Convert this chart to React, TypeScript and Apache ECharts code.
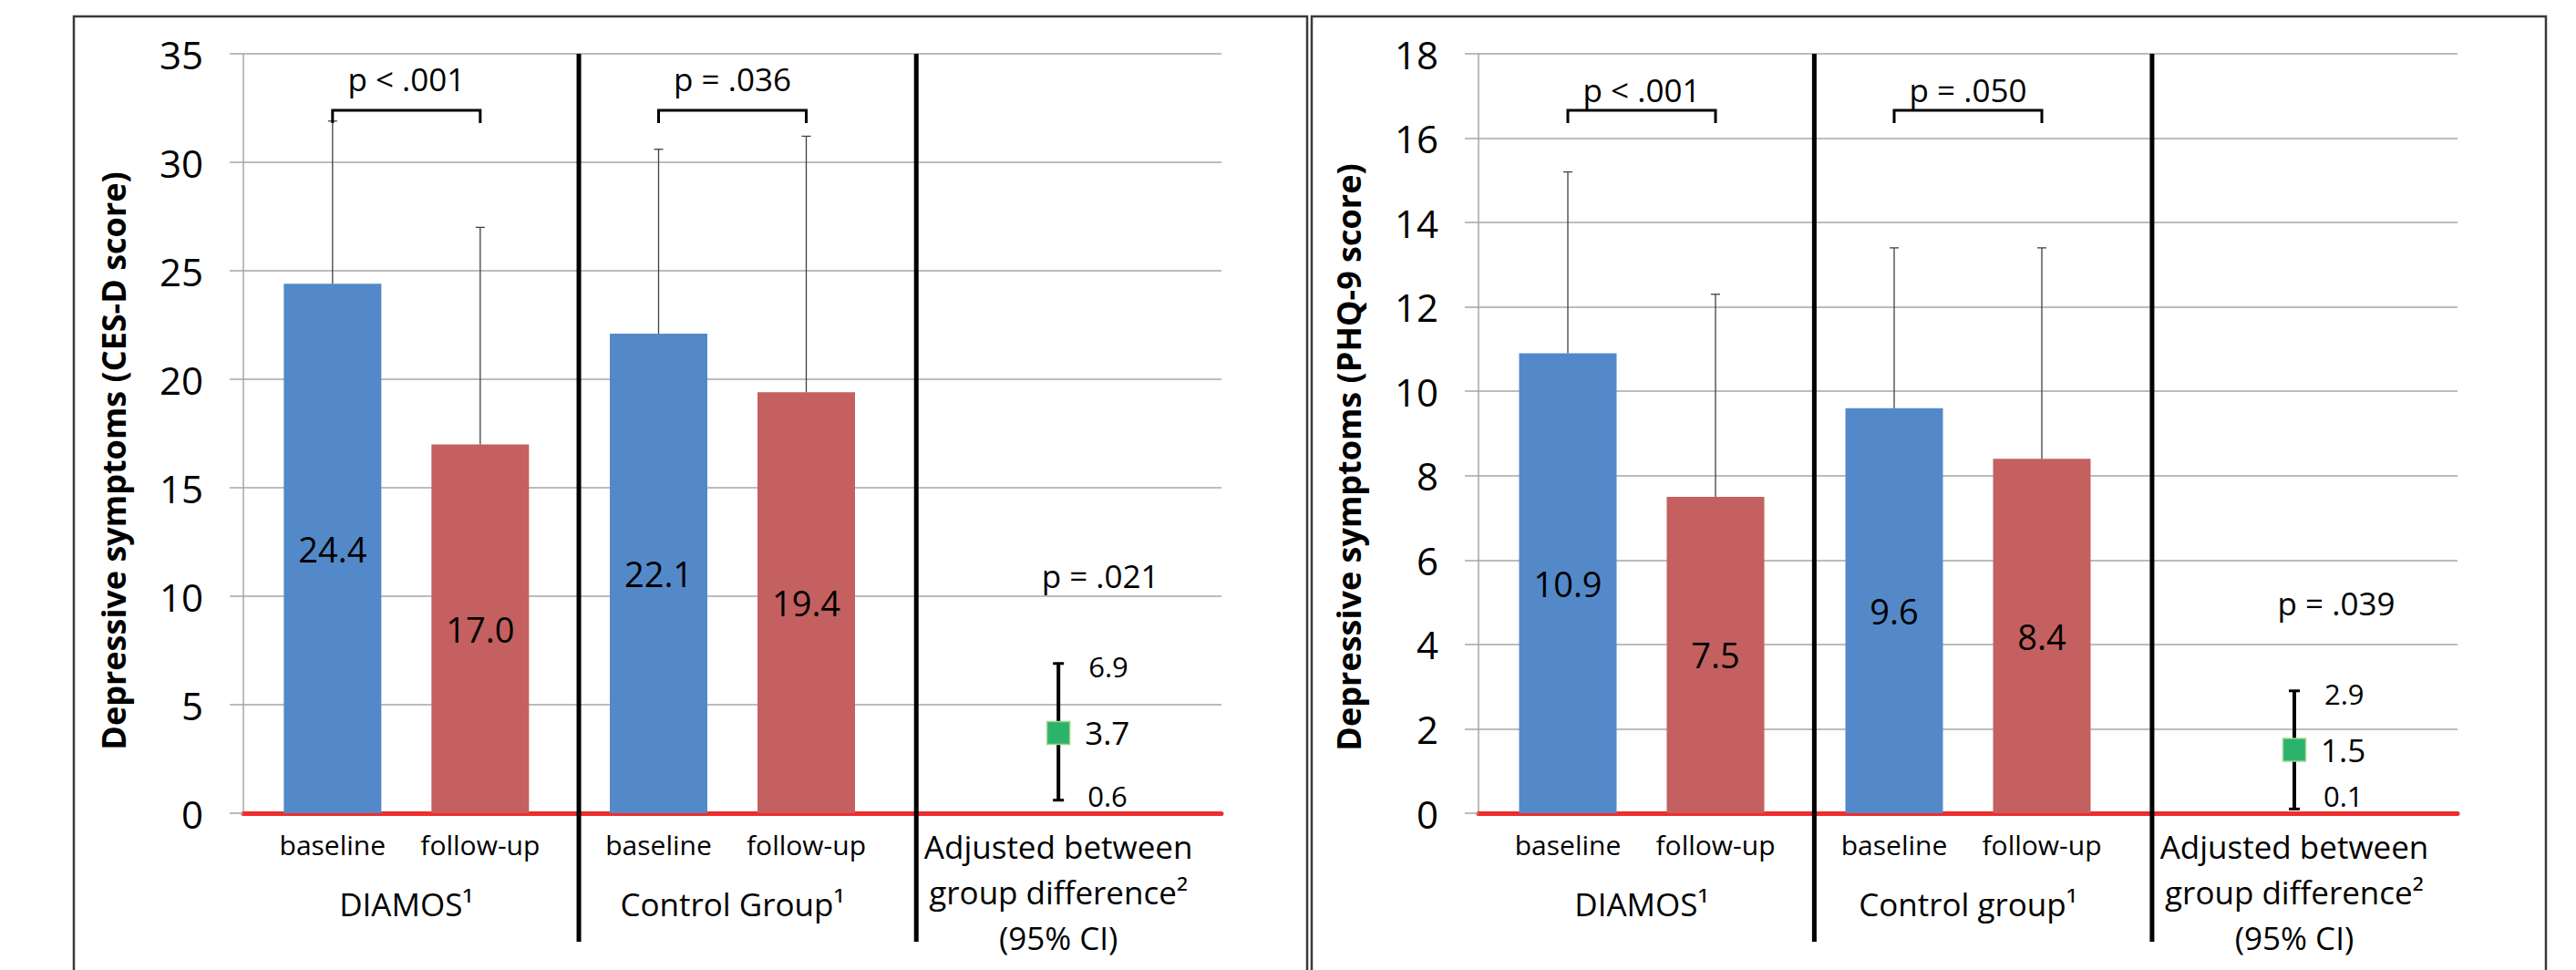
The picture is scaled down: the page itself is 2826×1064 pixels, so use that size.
import React, { useEffect, useRef } from "react";
import * as echarts from "echarts";

const FONT = "'Open Sans', 'Liberation Sans', sans-serif";

// ---------- shared categories ----------
const timePoints = ["baseline", "follow-up"];
const diffCategory = "Adjusted between\ngroup difference²\n(95% CI)";

// ---------- Panel A: CES-D ----------
const cesdTitle = "Depressive symptoms (CES-D score)";
const cesdGroups = ["DIAMOS¹", "Control Group¹"];
const cesdBaseline = [24.4, 22.1];
const cesdFollowUp = [17.0, 19.4];
const cesdBaselineSD = [7.5, 8.5];
const cesdFollowUpSD = [10.0, 11.8];
const cesdWithinP = ["p < .001", "p = .036"];
const cesdDiff = [3.7];
const cesdDiffLow = [0.6];
const cesdDiffHigh = [6.9];
const cesdBetweenP = ["p = .021"];
const cesdAxis = [0, 35, 5]; // min, max, interval

// ---------- Panel B: PHQ-9 ----------
const phqTitle = "Depressive symptoms (PHQ-9 score)";
const phqGroups = ["DIAMOS¹", "Control group¹"];
const phqBaseline = [10.9, 9.6];
const phqFollowUp = [7.5, 8.4];
const phqBaselineSD = [4.3, 3.8];
const phqFollowUpSD = [4.8, 5.0];
const phqWithinP = ["p < .001", "p = .050"];
const phqDiff = [1.5];
const phqDiffLow = [0.1];
const phqDiffHigh = [2.9];
const phqBetweenP = ["p = .039"];
const phqAxis = [0, 18, 2];

// ---------- styling constants ----------
const BLUE = "#5489C9";
const RED = "#C4605F";
const GREEN = "#2BB36B";
const GRID_GRAY = "#A6A6A6";
const BAR_W = 107;
const BAR_GAP = 55;
const BAR_SHIFT = (BAR_W + BAR_GAP) / 2;
const GRID_TOP = 59;
const GRID_H = 833;
const BRACKET_LEVEL = 0.9256;
const LEG_LEVEL = 0.9088;
const DIVIDER_FRACTIONS = [0.343, 0.688];

const PANEL_STYLE = [
  { frameX: 81, frameW: 1353, gridLeft: 267, gridW: 1073, pTextLevel: 0.967, nameShift: 30 },
  { frameX: 1439, frameW: 1354, gridLeft: 1622, gridW: 1074, pTextLevel: 0.953, nameShift: 26 },
];

const panels = [
  {
    title: cesdTitle, groups: cesdGroups, baseline: cesdBaseline, followUp: cesdFollowUp,
    baselineSD: cesdBaselineSD, followUpSD: cesdFollowUpSD, withinP: cesdWithinP,
    diff: cesdDiff, diffLow: cesdDiffLow, diffHigh: cesdDiffHigh, betweenP: cesdBetweenP, axis: cesdAxis,
  },
  {
    title: phqTitle, groups: phqGroups, baseline: phqBaseline, followUp: phqFollowUp,
    baselineSD: phqBaselineSD, followUpSD: phqFollowUpSD, withinP: phqWithinP,
    diff: phqDiff, diffLow: phqDiffLow, diffHigh: phqDiffHigh, betweenP: phqBetweenP, axis: phqAxis,
  },
];

function errorBarSeries(i: number, means: number[], sds: number[], sign: number) {
  return {
    type: "custom",
    xAxisIndex: i,
    yAxisIndex: i,
    silent: true,
    z: 4,
    data: means.map((m, k) => [k, m, sds[k]]),
    renderItem: (params: any, api: any) => {
      const cat = api.value(0);
      const m = api.value(1);
      const sd = api.value(2);
      const p0 = api.coord([cat, m]);
      const p1 = api.coord([cat, m + sd]);
      const x = p0[0] + sign * BAR_SHIFT;
      const st = { stroke: "#404040", lineWidth: 1.3 };
      return {
        type: "group",
        children: [
          { type: "line", shape: { x1: x, y1: p0[1], x2: x, y2: p1[1] }, style: st },
          { type: "line", shape: { x1: x - 5, y1: p1[1], x2: x + 5, y2: p1[1] }, style: st },
        ],
      };
    },
  };
}

function buildOption() {
  const grid: any[] = [];
  const xAxis: any[] = [];
  const yAxis: any[] = [];
  const series: any[] = [];
  const graphic: any[] = [];

  panels.forEach((p, i) => {
    const s = PANEL_STYLE[i];
    const [ymin, ymax, yint] = p.axis;
    grid.push({
      left: s.gridLeft, top: GRID_TOP, width: s.gridW, height: GRID_H,
      containLabel: false, outerBoundsMode: "none",
    });
    xAxis.push({
      type: "category",
      gridIndex: i,
      data: [...p.groups, diffCategory],
      axisLine: { show: true, onZero: true, lineStyle: { color: "#EE2D2D", width: 5 } },
      axisTick: { show: false },
      splitLine: { show: false },
      axisLabel: {
        interval: 0,
        margin: 11,
        color: "#000",
        fontFamily: FONT,
        fontSize: 30,
        formatter: (value: string, idx: number) =>
          idx < p.groups.length
            ? `{t|${timePoints[0]}}{t|${timePoints[1]}}\n{g|${value}}`
            : value.split("\n").map((l) => `{a|${l}}`).join("\n"),
        rich: {
          t: { fontSize: 30, fontFamily: FONT, color: "#000", width: BAR_W + BAR_GAP, align: "center", lineHeight: 46 },
          g: { fontSize: 35, fontFamily: FONT, color: "#000", align: "center", lineHeight: 84 },
          a: { fontSize: 35, fontFamily: FONT, color: "#000", align: "center", lineHeight: 50 },
        },
      },
    });
    yAxis.push({
      type: "value",
      gridIndex: i,
      min: ymin,
      max: ymax,
      interval: yint,
      axisLine: { show: true, lineStyle: { color: GRID_GRAY, width: 1.5 } },
      axisTick: { show: true, length: 15, lineStyle: { color: GRID_GRAY, width: 1.5 } },
      splitLine: { show: true, lineStyle: { color: GRID_GRAY, width: 1.5 } },
      axisLabel: { fontSize: 42, fontFamily: FONT, color: "#000", margin: 44 },
      name: p.title,
      nameLocation: "middle",
      nameGap: 125,
      nameTextStyle: {
        fontSize: 36, fontWeight: "bold", fontFamily: FONT, color: "#000",
        padding: [0, s.nameShift * 2, 0, 0],
      },
    });

    const barLabel = {
      show: true,
      position: "inside",
      fontSize: 38,
      fontFamily: FONT,
      color: "#000",
      textBorderWidth: 0,
      formatter: (d: any) => Number(d.value).toFixed(1),
    };
    series.push({
      type: "bar", name: timePoints[0], xAxisIndex: i, yAxisIndex: i,
      data: [...p.baseline, "-"], barWidth: BAR_W, barGap: `${(BAR_GAP / BAR_W) * 100}%`,
      itemStyle: { color: BLUE }, label: barLabel, z: 2,
    });
    series.push({
      type: "bar", name: timePoints[1], xAxisIndex: i, yAxisIndex: i,
      data: [...p.followUp, "-"], barWidth: BAR_W, barGap: `${(BAR_GAP / BAR_W) * 100}%`,
      itemStyle: { color: RED }, label: barLabel, z: 2,
    });
    series.push(errorBarSeries(i, p.baseline, p.baselineSD, -1));
    series.push(errorBarSeries(i, p.followUp, p.followUpSD, 1));

    // within-group brackets with p-values
    series.push({
      type: "custom",
      xAxisIndex: i,
      yAxisIndex: i,
      silent: true,
      z: 5,
      data: p.groups.map((_, k) => [k, ymax * BRACKET_LEVEL]),
      renderItem: (params: any, api: any) => {
        const cat = api.value(0);
        const c = api.coord([cat, api.value(1)]);
        const legY = api.coord([cat, ymax * LEG_LEVEL])[1];
        const textY = api.coord([cat, ymax * s.pTextLevel])[1];
        const xl = c[0] - BAR_SHIFT;
        const xr = c[0] + BAR_SHIFT;
        return {
          type: "group",
          children: [
            {
              type: "polyline",
              shape: { points: [[xl, legY], [xl, c[1]], [xr, c[1]], [xr, legY]] },
              style: { stroke: "#000", lineWidth: 3, fill: null },
            },
            {
              type: "text",
              x: c[0],
              y: textY,
              style: {
                text: p.withinP[params.dataIndex], fill: "#000", fontSize: 35, fontFamily: FONT,
                align: "center", verticalAlign: "middle",
              },
            },
          ],
        };
      },
    });

    // adjusted between-group difference with 95% CI
    series.push({
      type: "custom",
      xAxisIndex: i,
      yAxisIndex: i,
      silent: true,
      z: 6,
      data: p.diff.map((d, k) => [p.groups.length, d, p.diffLow[k], p.diffHigh[k]]),
      renderItem: (params: any, api: any) => {
        const cat = api.value(0);
        const est = api.value(1);
        const lo = api.value(2);
        const hi = api.value(3);
        const pe = api.coord([cat, est]);
        const pl = api.coord([cat, lo]);
        const ph = api.coord([cat, hi]);
        const zeroY = api.coord([cat, 0])[1];
        const x = pe[0];
        const k = params.dataIndex;
        const txt = (t: string, tx: number, ty: number, size: number, align = "left") => ({
          type: "text",
          x: tx,
          y: ty,
          style: { text: t, fill: "#000", fontSize: size, fontFamily: FONT, align, verticalAlign: "middle" },
        });
        return {
          type: "group",
          children: [
            { type: "line", shape: { x1: x, y1: pl[1], x2: x, y2: ph[1] }, style: { stroke: "#000", lineWidth: 4 } },
            { type: "line", shape: { x1: x - 6, y1: ph[1], x2: x + 6, y2: ph[1] }, style: { stroke: "#000", lineWidth: 3 } },
            { type: "line", shape: { x1: x - 6, y1: pl[1], x2: x + 6, y2: pl[1] }, style: { stroke: "#000", lineWidth: 3 } },
            {
              type: "rect",
              shape: { x: x - 12.5, y: pe[1] - 12.5, width: 25, height: 25 },
              style: { fill: GREEN, stroke: "#A3D48E", lineWidth: 1.5 },
            },
            txt(est.toFixed(1), x + 29, pe[1], 35),
            txt(hi.toFixed(1), x + 33, ph[1] + 3, 31),
            txt(lo.toFixed(1), x + 32, Math.min(pl[1] - 5, zeroY - 19), 31),
            txt(p.betweenP[k], x + 46, ph[1] - 96, 35, "center"),
          ],
        };
      },
    });

    // panel frame and group dividers
    graphic.push({
      type: "rect",
      silent: true,
      z: 0,
      shape: { x: s.frameX, y: 18, width: s.frameW, height: 1200 },
      style: { fill: "none", stroke: "#3A3A3A", lineWidth: 2.5 },
    });
    DIVIDER_FRACTIONS.forEach((f) => {
      const dx = s.gridLeft + f * s.gridW;
      graphic.push({
        type: "line",
        silent: true,
        z: 100,
        shape: { x1: dx, y1: GRID_TOP, x2: dx, y2: 1033 },
        style: { stroke: "#000", lineWidth: 5 },
      });
    });
  });

  return {
    animation: false,
    backgroundColor: "#fff",
    textStyle: { fontFamily: FONT },
    grid,
    xAxis,
    yAxis,
    series,
    graphic,
  };
}

export default function App() {
  const ref = useRef<HTMLDivElement>(null);
  useEffect(() => {
    if (!ref.current) return;
    const chart = echarts.init(ref.current, undefined, { renderer: "svg" });
    chart.setOption(buildOption() as any);
    return () => chart.dispose();
  }, []);
  return (
    <div
      ref={ref}
      style={{ position: "absolute", left: 0, top: 0, width: 2826, height: 1064, background: "#fff" }}
    />
  );
}
